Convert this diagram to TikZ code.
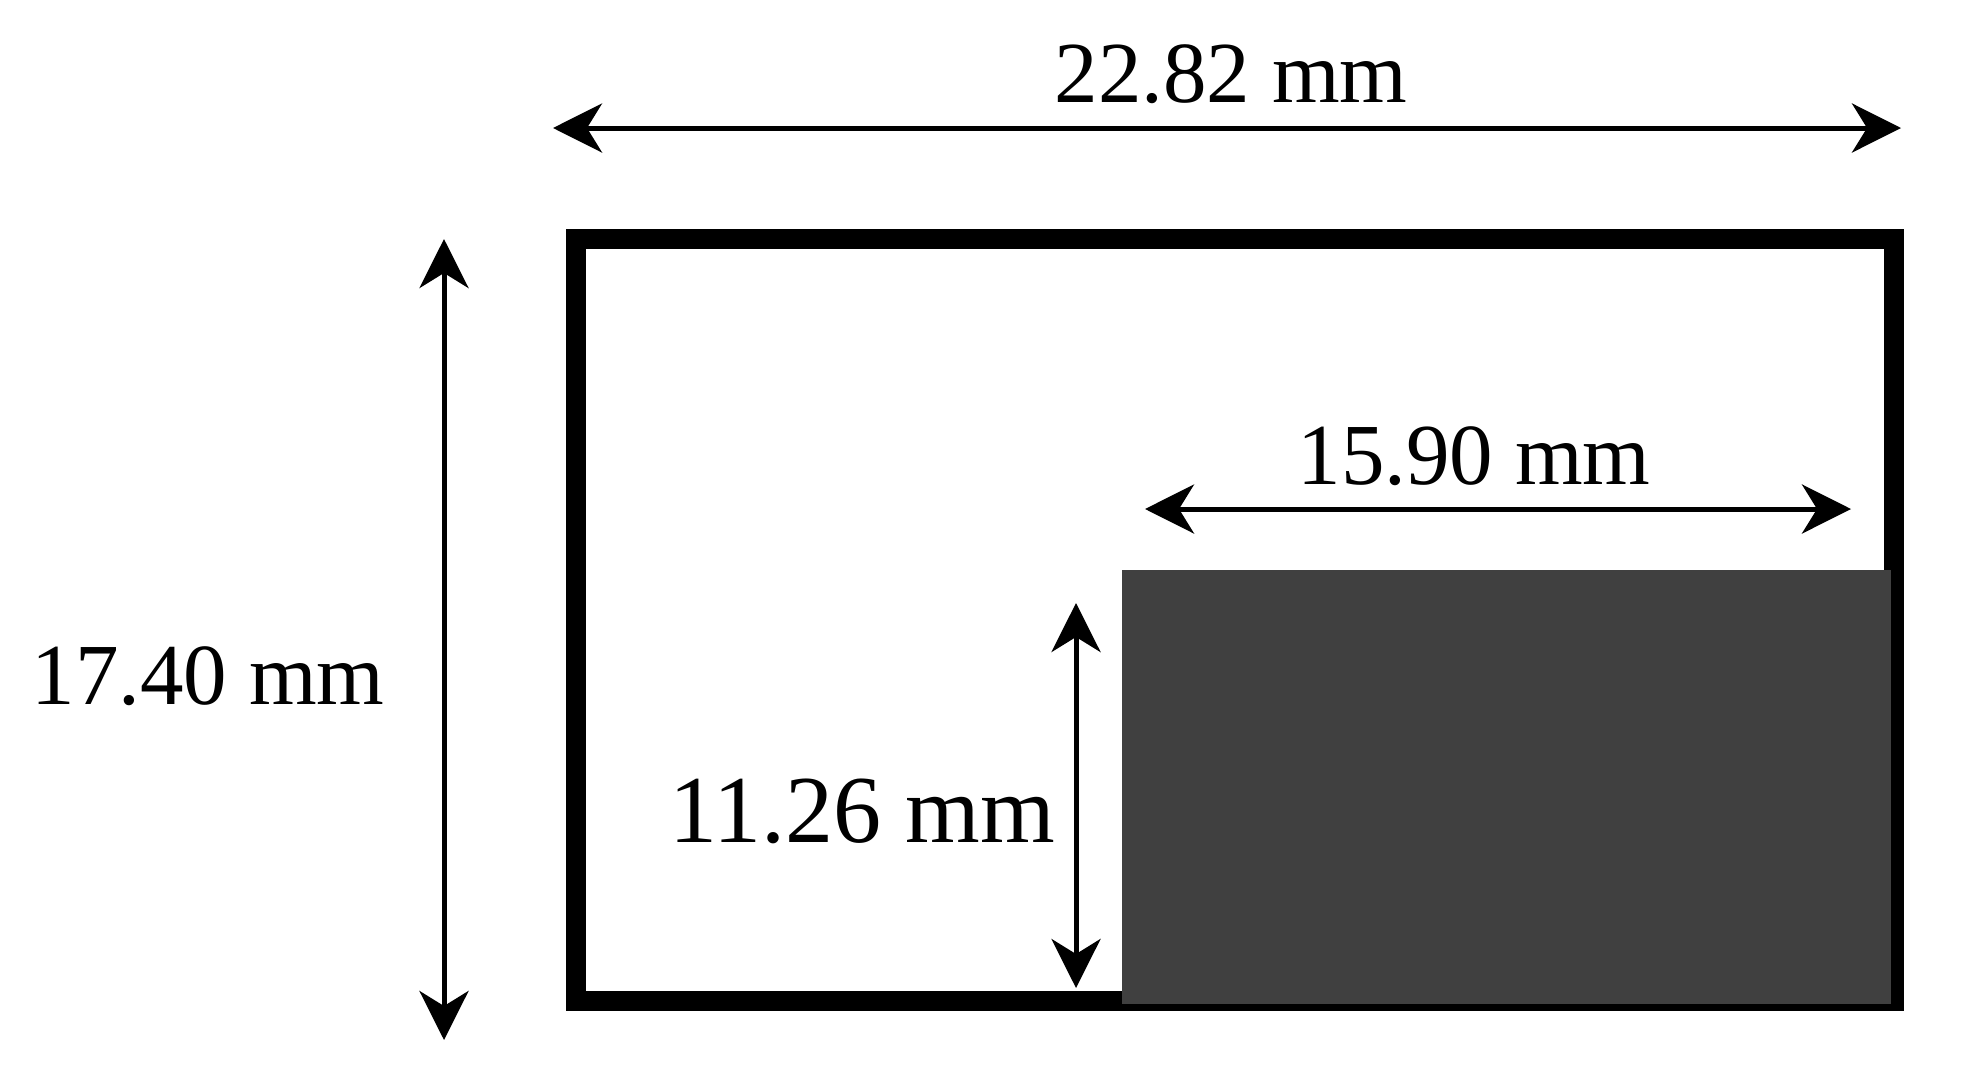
\documentclass[tikz,border=0pt]{standalone}
\usepackage{fontspec}
\setmainfont{Liberation Serif}
\usetikzlibrary{arrows.meta}
\definecolor{panelgray}{HTML}{404040}
\tikzset{
  dim/.style={line width=5pt, {Stealth[length=49pt,width=49pt,inset=15pt]}-{Stealth[length=49pt,width=49pt,inset=15pt]}},
  lbl/.style={anchor=base, inner sep=0pt, font=\fontsize{87}{100}\selectfont},
  biglbl/.style={anchor=base, inner sep=0pt, font=\fontsize{96}{110}\selectfont},
}
\begin{document}
\begin{tikzpicture}[x=1pt,y=-1pt]
\useasboundingbox (0,0) rectangle (1977,1080);
% frame
\coordinate (frameTL) at (575.5,239);
\coordinate (frameBR) at (1894,1001);
\draw[line width=20pt] (frameTL) rectangle (frameBR);
% gray panel
\coordinate (panelTL) at (1122,570);
\coordinate (panelBR) at (1891,1004);
\fill[panelgray] (panelTL) rectangle (panelBR);
% dimension arrows
\coordinate (wL) at (553,128);
\coordinate (wR) at (1901,128);
\draw[dim] (wL) -- (wR);
\coordinate (hT) at (444,239);
\coordinate (hB) at (444,1040);
\draw[dim] (hT) -- (hB);
\coordinate (pwL) at (1145,509);
\coordinate (pwR) at (1851,509);
\draw[dim] (pwL) -- (pwR);
\coordinate (phT) at (1076,603);
\coordinate (phB) at (1076,988);
\draw[dim] (phT) -- (phB);
% labels
\node[lbl] (lw) at (1231,102) {22.82 mm};
\node[lbl] (lpw) at (1474,484) {15.90 mm};
\node[lbl] (lh) at (208,704) {17.40 mm};
\node[biglbl] (lph) at (862,842) {11.26 mm};
\end{tikzpicture}
\end{document}
